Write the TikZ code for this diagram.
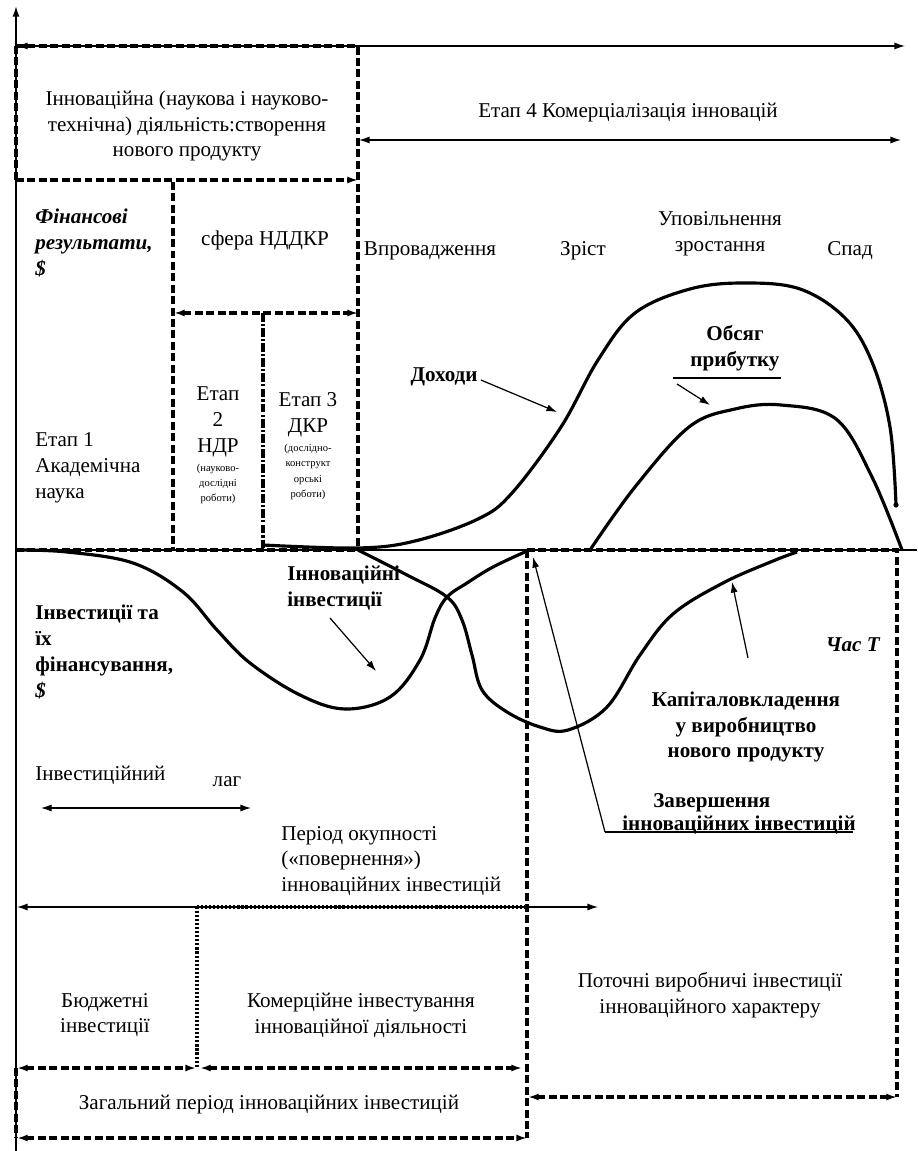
\documentclass[tikz,border=0pt]{standalone}
\usepackage{fontspec}
\setmainfont{Liberation Serif}
\usetikzlibrary{arrows.meta}

\begin{document}
\begin{tikzpicture}[x=0.02cm,y=-0.02cm,
    dbox/.style={line width=1.9pt, dash pattern=on 4.5pt off 2pt},
    dots/.style={line width=1.8pt, dash pattern=on 1.2pt off 1.1pt},
    crv/.style={line width=1.8pt, line join=round},
    thin/.style={line width=0.7pt},
    tip/.style={-{Latex[length=6pt,width=4pt]}},
    twotip/.style={{Latex[length=6pt,width=4pt]}-{Latex[length=6pt,width=4pt]}},
    txt/.style={font=\fontsize{12}{14.7}\selectfont, align=center, inner sep=0pt},
    bld/.style={font=\fontsize{12}{14.7}\selectfont\bfseries, align=left, inner sep=0pt},
    small/.style={font=\fontsize{6}{8.6}\selectfont, align=center, inner sep=0pt}]
\useasboundingbox (0,0) rectangle (917,1151);
% axes
\coordinate (ybot) at (16,1151); \coordinate (ytop) at (16,6);
\coordinate (o) at (16,550); \coordinate (xend) at (917,550);
\draw[line width=1pt, tip] (ybot) -- (ytop);
\draw[line width=0.9pt] (o) -- (xend);
% upper boxes
\coordinate (a1) at (17,46); \coordinate (a2) at (905,46);
\draw[thin, twotip] (a1) -- (a2);
\draw[dbox] (16,46) -- (358,46) -- (358,550);
\draw[dbox] (16,46) -- (16,180);
\draw[dbox, tip] (16,180) -- (358,180);
\draw[dbox] (173,182) -- (173,550);
\draw[dbox, twotip] (174,313) -- (358,313);
\draw[line width=1.8pt, dash pattern=on 5pt off 1.2pt on 1.2pt off 1.2pt] (263,313) -- (263,550);
\draw[dbox] (16,550) -- (358,550);
\coordinate (b1) at (359,140); \coordinate (b2) at (901,140);
\draw[thin, twotip] (b1) -- (b2);
\node[txt] (inno) at (187,126) {Інноваційна (наукова і науково-\\технічна) діяльність:створення\\нового продукту};
\node[txt] (etap4) at (628,113) {Етап 4 Комерціалізація інновацій};
\node[txt] (nddkr) at (265,240) {сфера НДДКР};
\node[bld, anchor=west, font=\fontsize{12}{14.7}\selectfont\bfseries\itshape] (fin) at (35,243) {Фінансові\\результати,\\\$};
\node[txt, align=left, anchor=west] (etap1) at (35,468) {Етап 1\\Академічна\\наука};
\node[txt] (etap2) at (218,422) {Етап\\2\\НДР};
\node[small] (etap2s) at (218,484) {(науково-\\дослідні\\роботи)};
\node[txt] (etap3) at (308,415) {Етап 3\\ДКР};
\node[small] (etap3s) at (308,472) {(дослідно-\\конструкт\\орські\\роботи)};
% life cycle phases
\node[txt] (vpr) at (430,251) {Впровадження};
\node[txt] (zrist) at (583,251) {Зріст};
\node[txt] (upov) at (720,234) {Уповільнення\\зростання};
\node[txt] (spad) at (850,251) {Спад};
% revenue and profit
\draw[crv] plot[smooth, tension=0.6] coordinates {(263,545) (358,548) (415,541) (478,519) (512,493) (561,427) (598,360) (635,313) (690,289) (744,283) (800,289) (845,318) (872,362) (890,427) (896,505)};
\fill (896,505) circle (2.6);
\draw[crv] plot[smooth, tension=0.6] coordinates {(590,550) (635,487) (689,427) (735,409) (781,405) (836,419) (872,477) (902,550)};
\node[bld] (dohody) at (444,377) {Доходи};
\coordinate (dohT) at (557,412);
\draw[thin, tip] (dohody.east) ++(3,3) coordinate (dohS) -- (dohT);
\node[bld, align=center] (obsyag) at (735,348) {Обсяг\\прибутку};
\coordinate (obsL) at (673,378); \coordinate (obsR) at (781,378);
\draw[thin] (obsL) -- (obsR);
\coordinate (obsS) at (677,384); \coordinate (obsT) at (710,405);
\draw[thin, tip] (obsS) -- (obsT);
% investments
\draw[crv] plot[smooth, tension=0.6] coordinates {(16,550) (67,552) (133,563) (183,592) (217,630) (250,663) (300,695) (345,709) (390,697) (420,660) (435,618) (447,597) (467,583) (493,567) (527,551)};
\draw[crv] plot[smooth, tension=0.6] coordinates {(358,550) (407,575) (447,597) (462,620) (472,655) (482,690) (507,712) (540,727) (568,730) (607,707) (640,655) (673,614) (723,583) (773,561) (797,552)};
\node[bld, anchor=west] (invfin) at (35,652) {Інвестиції та\\їх\\фінансування,\\{\itshape\$}};
\node[bld, anchor=west] (innov) at (287,588) {Інноваційні\\інвестиції};
\coordinate (innS) at (330,618); \coordinate (innT) at (376,671);
\draw[thin, tip] (innS) -- (innT);
\node[bld, anchor=east, font=\fontsize{12}{14.7}\selectfont\bfseries\itshape] (chas) at (880,645) {Час Т};
\node[bld, align=center] (kapit) at (746,727) {Капіталовкладення\\у виробництво\\нового продукту};
\coordinate (kapS) at (748,658); \coordinate (kapT) at (732,582);
\draw[thin, tip] (kapS) -- (kapT);
\node[bld, anchor=west] (zav1) at (653,803) {Завершення};
\node[bld, anchor=west] (zav2) at (622,825) {інноваційних інвестицій};
\coordinate (zavS) at (605,832); \coordinate (zavE) at (853,832); \coordinate (zavT) at (533,557);
\draw[thin] (zavE) -- (zavS);
\draw[thin, tip] (zavS) -- (zavT);
% lag and periods
\node[txt, anchor=west] (invlag) at (35,775) {Інвестиційний};
\node[txt] (lag) at (227,782) {лаг};
\coordinate (lagL) at (41,808); \coordinate (lagR) at (251,808);
\draw[thin, twotip] (lagL) -- (lagR);
\node[txt, align=left, anchor=west] (okup) at (281,861) {Період окупності\\(«повернення»)\\інноваційних інвестицій};
\coordinate (okL) at (17,907); \coordinate (okR) at (598,907);
\draw[thin, twotip] (okL) -- (okR);
\draw[dots] (197,907) -- (527,907);
\draw[dots] (197,907) -- (197,1068);
% right box
\draw[dbox] (527,550) -- (897,550) -- (897,1097);
\draw[dbox] (527,550) -- (527,1138);
\draw[dbox, twotip] (528,1097) -- (897,1097);
% bottom boxes
\draw[dbox, twotip] (17,1068) -- (196,1068);
\draw[dbox, twotip] (200,1068) -- (522,1068);
\draw[dbox] (16,1068) -- (16,1138);
\draw[dbox, twotip] (17,1138) -- (527,1138);
\node[txt] (budzh) at (105,1015) {Бюджетні\\інвестиції};
\node[txt] (komerc) at (361,1015) {Комерційне інвестування\\інноваційної діяльності};
\node[txt] (potoch) at (710,995) {Поточні виробничі інвестиції\\інноваційного характеру};
\node[txt] (zagal) at (269,1105) {Загальний період інноваційних інвестицій};
\end{tikzpicture}
\end{document}
